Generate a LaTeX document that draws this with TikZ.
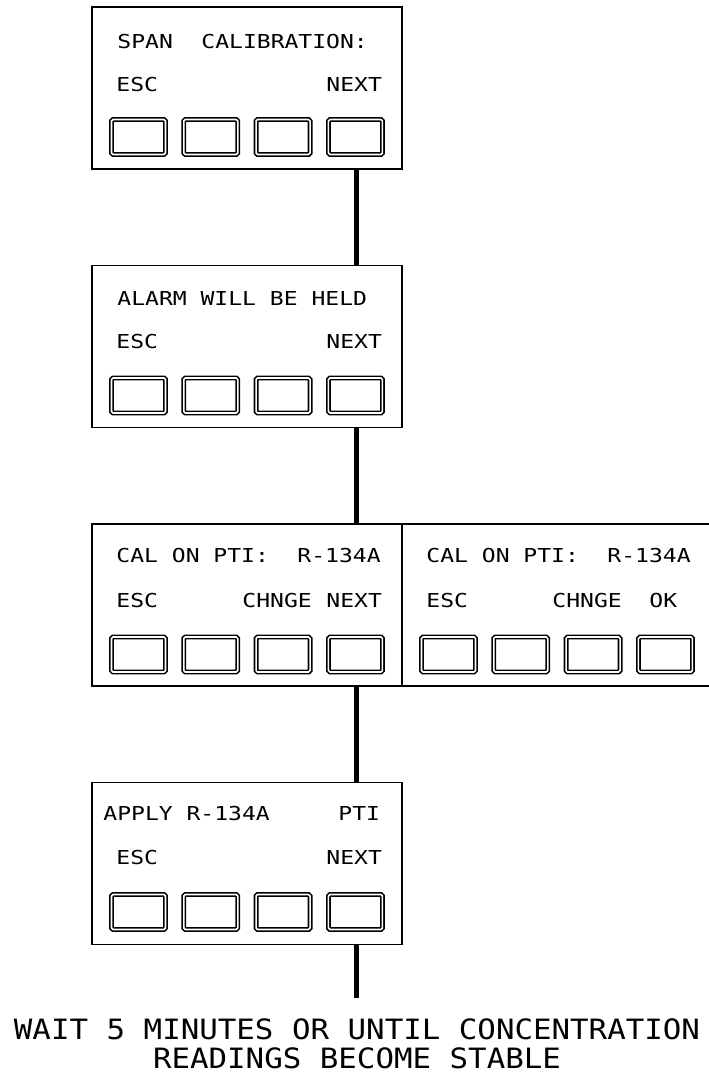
\documentclass[tikz,border=0pt]{standalone}
\usepackage{fontspec}
\newfontfamily\cadfont[FakeStretch=1.2]{DejaVu Sans Mono}
\newfontfamily\notefont[FakeStretch=1.1]{DejaVu Sans Mono}
\usepackage{tikz}
\usetikzlibrary{positioning}
\tikzstyle{panel}=[draw, line width=1.6pt, minimum width=310pt, minimum height=162pt, inner sep=0pt]
\tikzstyle{key}=[draw, line width=1.6pt, double, double distance=1.6pt, rounded corners=1.5pt, minimum width=54pt, minimum height=35pt, inner sep=0pt]
\tikzstyle{lcd}=[anchor=base west, inner sep=0pt, font=\cadfont\fontsize{19.2}{20}\selectfont]
\tikzstyle{wire}=[line width=5pt]
\tikzstyle{note}=[align=center, inner sep=0pt, font=\notefont\fontsize{28}{28.5}\selectfont]
\newcommand{\key}{\node[key]}

\begin{document}
\begin{tikzpicture}[x=1pt,y=-1pt]
            \useasboundingbox (0,0) rectangle (709,1076);

            % display panels
            \node[panel] (p1) at (247,88) {};
            \node[panel] (p2) at (247,346.5) {};
            \node[panel] (p3) at (247,605) {};
            \node[panel] (p3r) at (557,605) {};
            \node[panel] (p4) at (247,863.5) {};

            % keys
            \foreach \i in {1,...,4} {
                \key (k1\i) at (66.2+72.3*\i,137) {};
                \key (k2\i) at (66.2+72.3*\i,395.5) {};
                \key (k3\i) at (66.2+72.3*\i,654.5) {};
                \key (k5\i) at (376.2+72.3*\i,654.5) {};
                \key (k4\i) at (66.2+72.3*\i,912) {};
            }

            % screen texts
            \node[lcd] (t1) at ([shift={(26,42)}]p1.north west) {SPAN};
            \node[lcd] (t1b) at ([shift={(110,42)}]p1.north west) {CALIBRATION:};
            \node[lcd] (e1) at ([shift={(25,85)}]p1.north west) {ESC};
            \node[lcd] (n1) at ([shift={(235,85)}]p1.north west) {NEXT};

            \node[lcd] (t2) at ([shift={(26,41)}]p2.north west) {ALARM WILL BE HELD};
            \node[lcd] (e2) at ([shift={(25,84)}]p2.north west) {ESC};
            \node[lcd] (n2) at ([shift={(235,84)}]p2.north west) {NEXT};

            \node[lcd] (t3) at ([shift={(25,39)}]p3.north west) {CAL ON PTI:};
            \node[lcd] (r3) at ([shift={(206,39)}]p3.north west) {R-134A};
            \node[lcd] (e3) at ([shift={(25,84)}]p3.north west) {ESC};
            \node[lcd] (c3) at ([shift={(151,84)}]p3.north west) {CHNGE};
            \node[lcd] (n3) at ([shift={(235,84)}]p3.north west) {NEXT};

            \node[lcd] (t5) at ([shift={(25,39)}]p3r.north west) {CAL ON PTI:};
            \node[lcd] (r5) at ([shift={(206,39)}]p3r.north west) {R-134A};
            \node[lcd] (e5) at ([shift={(25,84)}]p3r.north west) {ESC};
            \node[lcd] (c5) at ([shift={(151,84)}]p3r.north west) {CHNGE};
            \node[lcd] (o5) at ([shift={(248,84)}]p3r.north west) {OK};

            \node[lcd] (t4) at ([shift={(12,39)}]p4.north west) {APPLY R-134A};
            \node[lcd] (q4) at ([shift={(247,39)}]p4.north west) {PTI};
            \node[lcd] (e4) at ([shift={(25,83)}]p4.north west) {ESC};
            \node[lcd] (n4) at ([shift={(235,83)}]p4.north west) {NEXT};

            % flow
            \coordinate (tail) at (356,998);
            \draw[wire] (p1.south -| tail) -- (p2.north -| tail);
            \draw[wire] (p2.south -| tail) -- (p3.north -| tail);
            \draw[wire] (p3.south -| tail) -- (p4.north -| tail);
            \draw[wire] (p4.south -| tail) -- (tail);

            \node[note] (msg) at (357,1044) {WAIT 5 MINUTES OR UNTIL CONCENTRATION\\READINGS BECOME STABLE};
        \end{tikzpicture}
\end{document}
